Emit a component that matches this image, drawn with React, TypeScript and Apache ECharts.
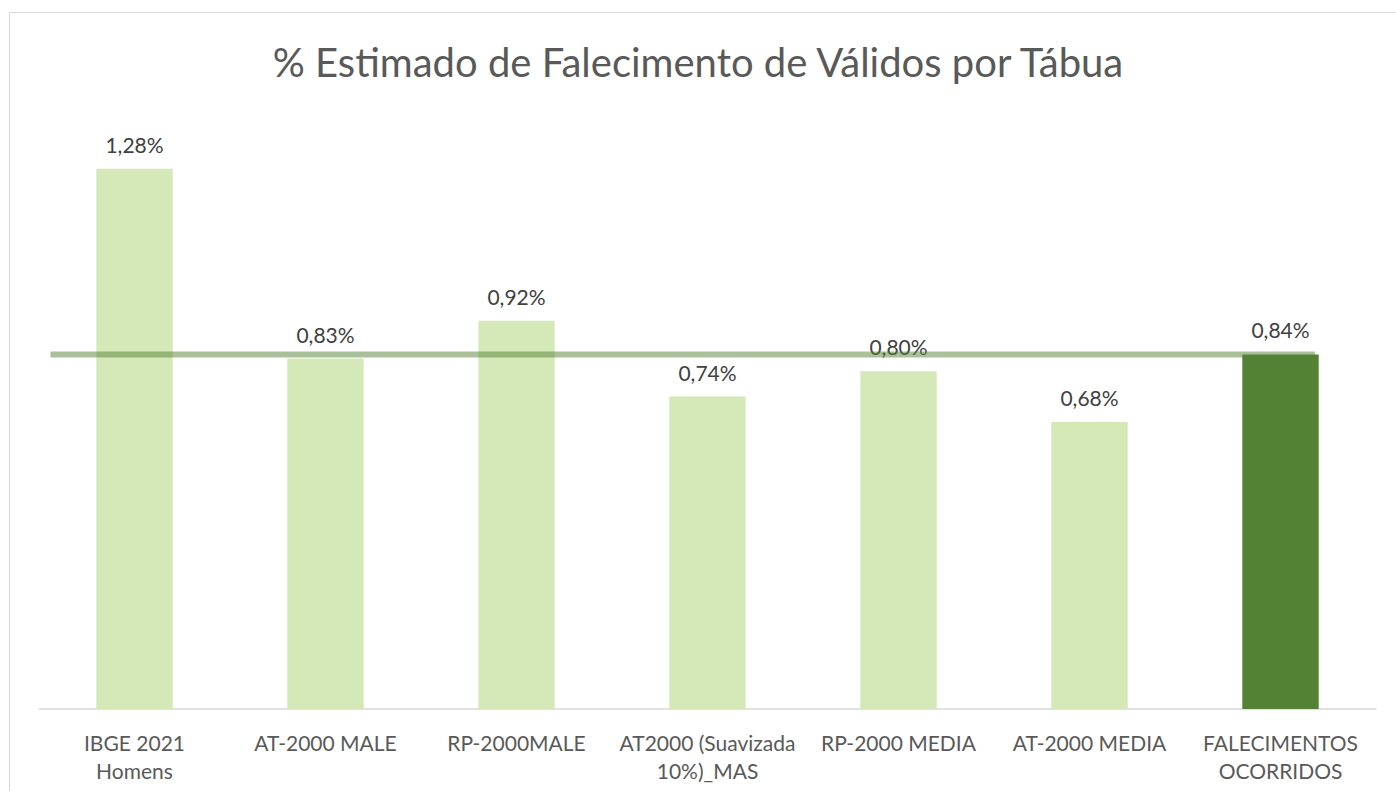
import React, { useEffect, useRef } from "react";
import * as echarts from "echarts";

const categories = [
  "IBGE 2021\nHomens",
  "AT-2000 MALE",
  "RP-2000MALE",
  "AT2000 (Suavizada\n10%)_MAS",
  "RP-2000 MEDIA",
  "AT-2000 MEDIA",
  "FALECIMENTOS\nOCORRIDOS",
];
const values = [1.28, 0.83, 0.92, 0.74, 0.8, 0.68, 0.84];
const highlightIndex = 6;
const referenceValue = 0.84;
const referenceSpan = [0.06, 6.68];

export default function App() {
  const ref = useRef<HTMLDivElement>(null);
  useEffect(() => {
    const chart = echarts.init(ref.current!, null, { renderer: "svg" });
    const font = "Lato, 'Open Sans', sans-serif";
    chart.setOption({
      animation: false,
      backgroundColor: "#ffffff",
      title: {
        text: "% Estimado de Falecimento de Válidos por Tábua",
        left: "center",
        top: 37,
        textStyle: { fontFamily: font, fontSize: 40, fontWeight: "normal", color: "#595959" },
      },
      graphic: [
        {
          type: "rect",
          shape: { x: 9.5, y: 12.5, width: 1500, height: 900 },
          style: { fill: "none", stroke: "#d9d9d9", lineWidth: 1 },
          silent: true,
        },
      ],
      grid: { left: 39, right: 20, top: 118, bottom: 82 },
      xAxis: [
        {
          type: "category",
          data: categories,
          axisLine: { lineStyle: { color: "#d9d9d9", width: 1.5 } },
          axisTick: { show: false },
          axisLabel: {
            interval: 0,
            color: "#595959",
            fontFamily: font,
            fontSize: 21,
            lineHeight: 28,
            margin: 19,
          },
        },
        { type: "value", min: 0, max: categories.length, show: false },
      ],
      yAxis: { type: "value", min: 0, max: 1.4, show: false },
      series: [
        {
          type: "bar",
          xAxisIndex: 0,
          barWidth: "40%",
          data: values.map((v, i) => ({
            value: v,
            itemStyle: { color: i === highlightIndex ? "#548235" : "#d4e9b7" },
          })),
          label: {
            show: true,
            position: "top",
            distance: 14,
            color: "#404040",
            fontFamily: font,
            fontSize: 21,
            formatter: (p: any) => p.value.toFixed(2).replace(".", ",") + "%",
          },
        },
        {
          type: "line",
          xAxisIndex: 1,
          data: referenceSpan.map((x) => [x, referenceValue]),
          symbol: "none",
          lineStyle: { color: "rgba(84,130,53,0.5)", width: 6 },
          z: 5,
        },
      ],
    });
    return () => chart.dispose();
  }, []);
  return (
    <div
      ref={ref}
      style={{ position: "fixed", left: 0, top: 0, width: 1396, height: 791 }}
    />
  );
}
